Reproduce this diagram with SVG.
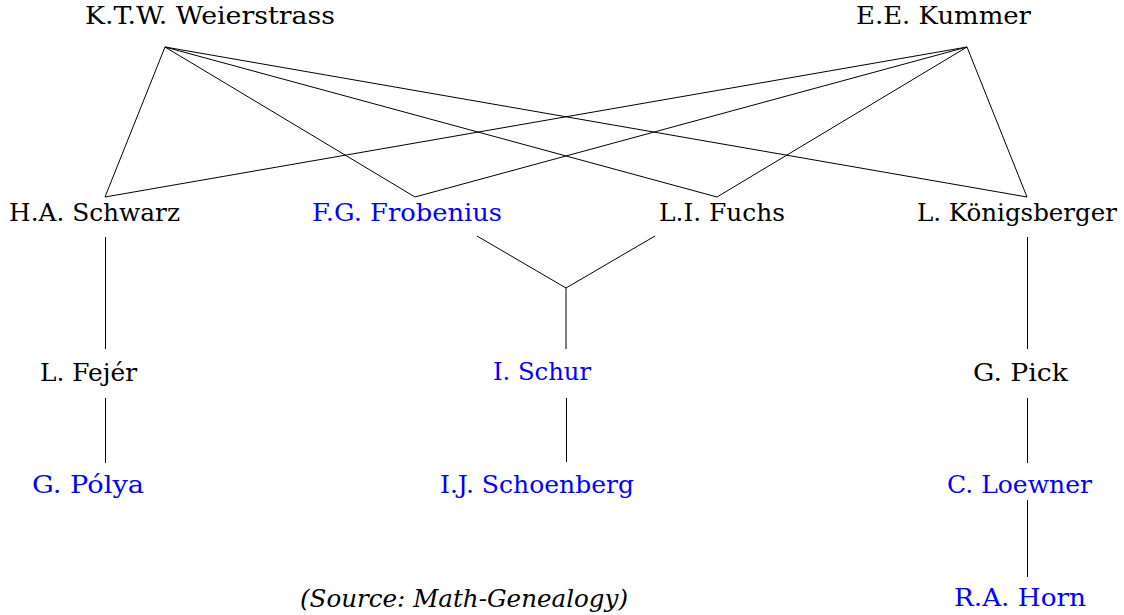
<svg xmlns="http://www.w3.org/2000/svg" width="1124" height="615" viewBox="0 0 1124 615">
<style>
text{font-family:"DejaVu Serif","Liberation Serif",serif;font-size:24px;fill:#000}
.b{fill:#0000ff}
.i{font-style:italic}
.c line{stroke:#000;stroke-width:1;fill:none}
</style>
<rect width="1124" height="615" fill="#fff"/>
<g class="c" id="connectors">
<line x1="165" y1="47" x2="105" y2="197"/>
<line x1="165" y1="47" x2="415" y2="197"/>
<line x1="165" y1="47" x2="717" y2="197"/>
<line x1="165" y1="47" x2="1027" y2="197"/>
<line x1="967" y1="47" x2="105" y2="197"/>
<line x1="967" y1="47" x2="415" y2="197"/>
<line x1="967" y1="47" x2="717" y2="197"/>
<line x1="967" y1="47" x2="1027" y2="197"/>
<line x1="477" y1="236" x2="566" y2="288"/>
<line x1="655" y1="236" x2="566" y2="288"/>
<line x1="566" y1="288" x2="566" y2="349"/>
<line x1="105.5" y1="237" x2="105.5" y2="349"/>
<line x1="1027.5" y1="237" x2="1027.5" y2="349"/>
<line x1="105.5" y1="398" x2="105.5" y2="463"/>
<line x1="566.5" y1="398" x2="566.5" y2="462"/>
<line x1="1027.5" y1="398" x2="1027.5" y2="463"/>
<line x1="1027.5" y1="500" x2="1027.5" y2="577"/>
</g>
<g id="weierstrass"><text x="85" y="24" textLength="250" lengthAdjust="spacingAndGlyphs">K.T.W. Weierstrass</text></g>
<g id="kummer"><text x="856" y="24" textLength="175" lengthAdjust="spacingAndGlyphs">E.E. Kummer</text></g>
<g id="schwarz"><text x="9" y="221" textLength="171" lengthAdjust="spacingAndGlyphs">H.A. Schwarz</text></g>
<g id="frobenius"><text class="b" x="312" y="221" textLength="190" lengthAdjust="spacingAndGlyphs">F.G. Frobenius</text></g>
<g id="fuchs"><text x="659" y="221" textLength="126" lengthAdjust="spacingAndGlyphs">L.I. Fuchs</text></g>
<g id="konigsberger"><text x="917" y="221" textLength="200" lengthAdjust="spacingAndGlyphs">L. Königsberger</text></g>
<g id="fejer"><text x="40" y="381" textLength="97" lengthAdjust="spacingAndGlyphs">L. Fejér</text></g>
<g id="schur"><text class="b" x="493" y="380" textLength="98" lengthAdjust="spacingAndGlyphs">I. Schur</text></g>
<g id="pick"><text x="973" y="381" textLength="95" lengthAdjust="spacingAndGlyphs">G. Pick</text></g>
<g id="polya"><text class="b" x="32" y="493" textLength="112" lengthAdjust="spacingAndGlyphs">G. Pólya</text></g>
<g id="schoenberg"><text class="b" x="440" y="493" textLength="194" lengthAdjust="spacingAndGlyphs">I.J. Schoenberg</text></g>
<g id="loewner"><text class="b" x="947" y="493" textLength="145" lengthAdjust="spacingAndGlyphs">C. Loewner</text></g>
<g id="horn"><text class="b" x="954" y="606" textLength="132" lengthAdjust="spacingAndGlyphs">R.A. Horn</text></g>
<g id="source"><text class="i" x="300" y="607" textLength="328" lengthAdjust="spacingAndGlyphs">(Source: Math-Genealogy)</text></g>
</svg>
